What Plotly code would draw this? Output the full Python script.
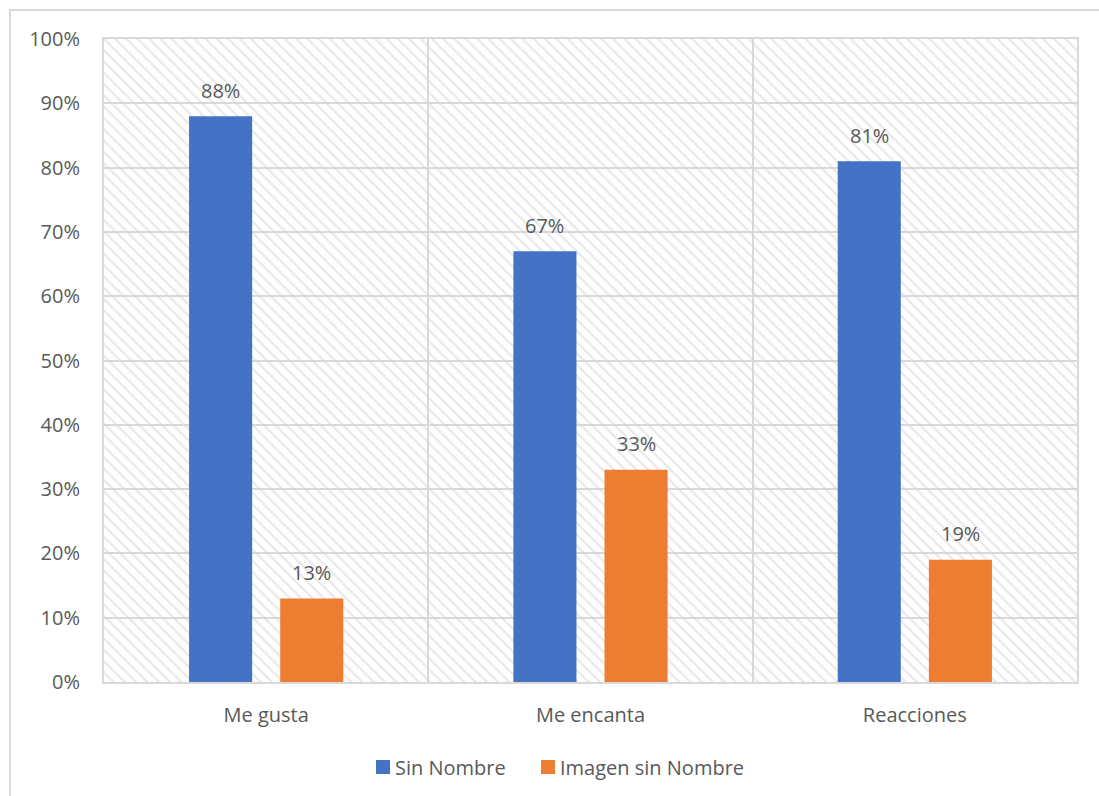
import plotly.graph_objects as go

categories = ["Me gusta", "Me encanta", "Reacciones"]
sin_nombre = [0.88, 0.67, 0.81]
imagen_sin_nombre = [0.13, 0.33, 0.19]
series_names = ["Sin Nombre", "Imagen sin Nombre"]
colors = ["#4472C4", "#ED7D31"]

W, H = 1099, 796
ML, MR, MT, MB = 104, 22, 39, 114
pw, ph = W - ML - MR, H - MT - MB
BARGAP = 0.438
GROUPGAP = 0.308
TXT = "#595959"
GRID = "#d9d9d9"
FONT = "Open Sans"
FS = 20

fig = go.Figure()

# hatched plot-area background (decoration) on the base x axis
fig.add_trace(go.Bar(
    x=[0.5], y=[1], width=[1], xaxis="x", yaxis="y",
    marker=dict(color="rgba(0,0,0,0)", line=dict(width=0),
                pattern=dict(shape="\\", fgcolor="#d4d4d4", bgcolor="rgba(0,0,0,0)",
                             size=8, solidity=0.3, fillmode="overlay")),
    showlegend=False, hoverinfo="skip"))

for name, vals, col in zip(series_names, [sin_nombre, imagen_sin_nombre], colors):
    fig.add_trace(go.Bar(x=categories, y=vals, name=name,
                         marker=dict(color=col, line=dict(width=0)),
                         xaxis="x2", yaxis="y", showlegend=False))

slot = (1 - BARGAP) / 2
annotations = []
for si, vals in enumerate([sin_nombre, imagen_sin_nombre]):
    off = (-slot / 2) if si == 0 else (slot / 2)
    for ci, v in enumerate(vals):
        annotations.append(dict(x=ci + off, y=v, xref="x2", yref="y",
                                text=f"{round(v*100)}%", showarrow=False,
                                yanchor="middle", yshift=26,
                                font=dict(family=FONT, size=FS, color=TXT)))

# custom legend (square + label)
def px_x(p):
    return (p - ML) / pw

def px_y(p):
    return (MT + ph - p) / ph

shapes = [dict(type="rect", xref="paper", yref="paper",
               x0=px_x(10), x1=px_x(W + 20),
               y0=px_y(H + 20), y1=px_y(10),
               line=dict(color=GRID, width=2), fillcolor="rgba(0,0,0,0)",
               layer="below")]
leg_x = [376, 541]
for name, col, lx in zip(series_names, colors, leg_x):
    shapes.append(dict(type="rect", xref="paper", yref="paper",
                       x0=px_x(lx), x1=px_x(lx + 14), y0=px_y(774), y1=px_y(760),
                       line=dict(width=0), fillcolor=col))
    annotations.append(dict(x=px_x(lx + 17), y=px_y(767), xref="paper", yref="paper",
                            text=name, showarrow=False, xanchor="left", yanchor="middle",
                            font=dict(family=FONT, size=FS, color=TXT)))

fig.update_layout(
    width=W, height=H,
    margin=dict(l=ML, r=MR, t=MT, b=MB),
    paper_bgcolor="white", plot_bgcolor="white",
    barmode="group", bargap=BARGAP, bargroupgap=GROUPGAP,
    font=dict(family=FONT, size=FS, color=TXT),
    xaxis=dict(range=[0, 1], visible=False, showgrid=False, zeroline=False),
    xaxis2=dict(type="category", overlaying="x", side="bottom", anchor="y",
                range=[-0.5, 2.5], tickson="boundaries",
                showgrid=True, gridcolor=GRID, gridwidth=2,
                showline=True, linecolor=GRID, linewidth=2, mirror=True,
                ticks="", ticklabelstandoff=14, zeroline=False,
                tickfont=dict(family=FONT, size=FS, color=TXT)),
    yaxis=dict(range=[0, 1], dtick=0.1, tickformat=".0%",
               showgrid=True, gridcolor=GRID, gridwidth=2,
               showline=True, linecolor=GRID, linewidth=2, mirror=True,
               zeroline=False, ticks="", ticklabelstandoff=18,
               tickfont=dict(family=FONT, size=FS, color=TXT)),
    showlegend=False,
    annotations=annotations,
    shapes=shapes,
)

fig.write_html("out.html")
